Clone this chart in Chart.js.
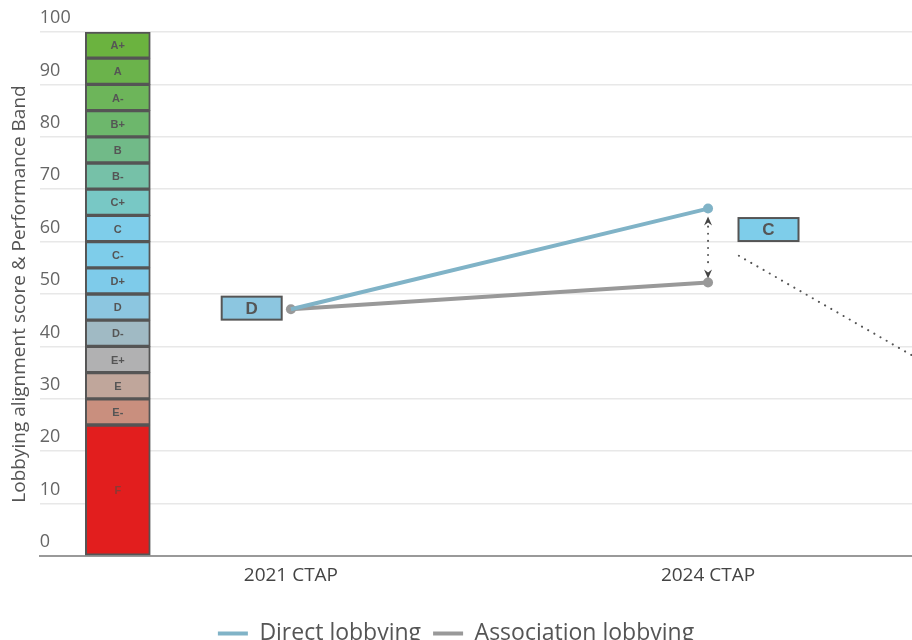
<!DOCTYPE html>
<html>
<head>
<meta charset="utf-8">
<script src="https://cdn.jsdelivr.net/npm/chart.js@4.4.1/dist/chart.umd.min.js"></script>
<style>
  html, body { margin: 0; padding: 0; background: #fff; }
  #wrap { width: 912px; height: 640px; }
</style>
</head>
<body>
<div id="wrap"><canvas id="lobbyChart"></canvas></div>
<script>
// x positions on a linear axis: 1 = 2021 CTAP, 2 = 2024 CTAP
const xLabels = ['2021 CTAP', '2024 CTAP'];
const xPositions = [1, 2];
const directLobbying = [47.1, 66.3];
const associationLobbying = [47.1, 52.2];

// performance band column (score ranges)
const bandNames = ['F', 'E-', 'E', 'E+', 'D-', 'D', 'D+', 'C-', 'C', 'C+', 'B-', 'B', 'B+', 'A-', 'A', 'A+'];
const bandLow  = [0, 25, 30, 35, 40, 45, 50, 55, 60, 65, 70, 75, 80, 85, 90, 95];
const bandHigh = [25, 30, 35, 40, 45, 50, 55, 60, 65, 70, 75, 80, 85, 90, 95, 100];
const bandColumnX = 0.585;

// grade boxes next to the points
const gradeBoxText = ['D', 'C'];
const gradeBoxX = [0.906, 2.145];
const gradeBoxY = [47.3, 62.3];

// dotted leader line going off to the right
const leaderX = [2.074, 2.6];
const leaderY = [57.3, 33.2];

const bandColors = ['#e21e1e', '#c98f7e', '#c0a69b', '#b1b1b2', '#a0bac4', '#8cc6e0', '#7ecbea',
  '#7ecdea', '#7ecdea', '#78c8c5', '#76c1a8', '#71ba88', '#6db76c', '#6db55a', '#6bb34b', '#6bb33f'];

const FONT = '"Open Sans", "Noto Sans", sans-serif';

// draws the letters inside the band column
const bandLabelPlugin = {
  id: 'bandLabels',
  afterDatasetsDraw(chart) {
    const ctx = chart.ctx;
    const meta = chart.getDatasetMeta(2);
    ctx.save();
    ctx.font = 'bold 11px "Liberation Sans", Arial, sans-serif';
    ctx.textAlign = 'center';
    ctx.textBaseline = 'middle';
    meta.data.forEach(function (bar, i) {
      ctx.fillStyle = bandNames[i] === 'F' ? '#8a3a35' : '#555';
      ctx.fillText(bandNames[i], bar.x, (bar.y + bar.base) / 2 + 1);
    });
    ctx.restore();
  }
};

// grade boxes, the dotted arrow between 2024 points and the leader line
const annotationPlugin = {
  id: 'annotations',
  afterDatasetsDraw(chart) {
    const ctx = chart.ctx;
    const xs = chart.scales.x, ys = chart.scales.y;
    const area = chart.chartArea;

    ctx.save();
    ctx.beginPath();
    ctx.rect(area.left, 0, area.right - area.left, chart.height);
    ctx.clip();

    // leader line
    ctx.strokeStyle = '#555';
    ctx.lineWidth = 2;
    ctx.lineCap = 'round';
    ctx.setLineDash([0.1, 7]);
    ctx.beginPath();
    ctx.moveTo(xs.getPixelForValue(leaderX[0]), ys.getPixelForValue(leaderY[0]));
    ctx.lineTo(xs.getPixelForValue(leaderX[1]), ys.getPixelForValue(leaderY[1]));
    ctx.stroke();

    // vertical dotted arrow at 2024
    const ax = xs.getPixelForValue(xPositions[1]);
    const top = ys.getPixelForValue(directLobbying[1]) + 8;
    const bot = ys.getPixelForValue(associationLobbying[1]) - 4;
    ctx.beginPath();
    ctx.moveTo(ax, top + 10);
    ctx.lineTo(ax, bot - 10);
    ctx.stroke();
    ctx.setLineDash([]);
    ctx.fillStyle = '#444';
    ctx.beginPath();
    ctx.moveTo(ax, top);
    ctx.lineTo(ax + 4, top + 9);
    ctx.lineTo(ax, top + 6);
    ctx.lineTo(ax - 4, top + 9);
    ctx.closePath();
    ctx.fill();
    ctx.beginPath();
    ctx.moveTo(ax, bot);
    ctx.lineTo(ax + 4, bot - 9);
    ctx.lineTo(ax, bot - 6);
    ctx.lineTo(ax - 4, bot - 9);
    ctx.closePath();
    ctx.fill();

    // grade boxes
    ctx.font = 'bold 17px "Liberation Sans", Arial, sans-serif';
    ctx.textAlign = 'center';
    ctx.textBaseline = 'middle';
    gradeBoxText.forEach(function (t, i) {
      const cx = xs.getPixelForValue(gradeBoxX[i]);
      const cy = ys.getPixelForValue(gradeBoxY[i]);
      ctx.fillStyle = bandColors[bandNames.indexOf(t)];
      ctx.fillRect(cx - 30, cy - 11.5, 60, 23);
      ctx.strokeStyle = '#555';
      ctx.lineWidth = 2;
      ctx.strokeRect(cx - 30, cy - 11.5, 60, 23);
      ctx.fillStyle = '#555';
      ctx.fillText(t, cx, cy + 1);
    });
    ctx.restore();
  }
};

const ctx = document.getElementById('lobbyChart').getContext('2d');

const lobbyChart = new Chart(ctx, {
  data: {
    datasets: [
      {
        type: 'line',
        label: 'Direct lobbying',
        data: xPositions.map(function (x, i) { return {x: x, y: directLobbying[i]}; }),
        borderColor: '#80b3c7',
        backgroundColor: '#80b3c7',
        borderWidth: 4,
        pointRadius: [0, 5],
        pointBorderWidth: 0,
        pointBackgroundColor: '#80b3c7'
      },
      {
        type: 'line',
        label: 'Association lobbying',
        data: xPositions.map(function (x, i) { return {x: x, y: associationLobbying[i]}; }),
        borderColor: '#999999',
        backgroundColor: '#999999',
        borderWidth: 4,
        pointRadius: 5,
        pointBorderWidth: 0,
        pointBackgroundColor: '#999999'
      },
      {
        type: 'bar',
        label: 'Performance band',
        data: bandNames.map(function (n, i) { return {x: bandColumnX, y: [bandLow[i], bandHigh[i]]}; }),
        backgroundColor: bandColors,
        borderColor: '#555',
        borderWidth: 2,
        borderSkipped: false,
        barThickness: 65,
        grouped: false
      }
    ]
  },
  options: {
    responsive: true,
    maintainAspectRatio: false,
    animation: false,
    layout: { autoPadding: false, padding: { top: 32, left: 0, right: 0, bottom: -15 } },
    scales: {
      x: {
        type: 'linear',
        offset: false,
        min: 0.398,
        max: 2.489,
        afterBuildTicks: function (scale) {
          scale.ticks = xPositions.map(function (v) { return {value: v}; });
        },
        afterFit: function (scale) { scale.height = 54; },
        grid: { display: false, drawTicks: false, offset: false },
        border: { display: true, color: '#999', width: 2 },
        ticks: {
          padding: 8,
          color: '#444',
          font: { family: FONT, size: 19 },
          callback: function (value) { return xLabels[xPositions.indexOf(value)]; }
        }
      },
      y: {
        min: 0,
        max: 100,
        grid: { color: '#e8e8e8', lineWidth: 1.5, drawTicks: false },
        border: { display: false },
        ticks: {
          stepSize: 10,
          mirror: true,
          padding: 0,
          labelOffset: -14,
          color: '#666',
          font: { family: FONT, size: 18 }
        },
        title: {
          display: true,
          text: 'Lobbying alignment score & Performance Band',
          color: '#555',
          font: { family: FONT, size: 19 },
          padding: { top: 8, bottom: 9 }
        }
      }
    },
    plugins: {
      tooltip: { enabled: false },
      legend: {
        position: 'bottom',
        labels: {
          color: '#555',
          font: { family: FONT, size: 23 },
          boxWidth: 30,
          boxHeight: 4,
          padding: 12,
          generateLabels: function (chart) {
            const items = Chart.defaults.plugins.legend.labels.generateLabels(chart);
            return items.filter(function (it) { return it.datasetIndex < 2; }).map(function (it) {
              it.lineWidth = 0;
              return it;
            });
          }
        }
      }
    }
  },
  plugins: [bandLabelPlugin, annotationPlugin]
});
</script>
</body>
</html>
